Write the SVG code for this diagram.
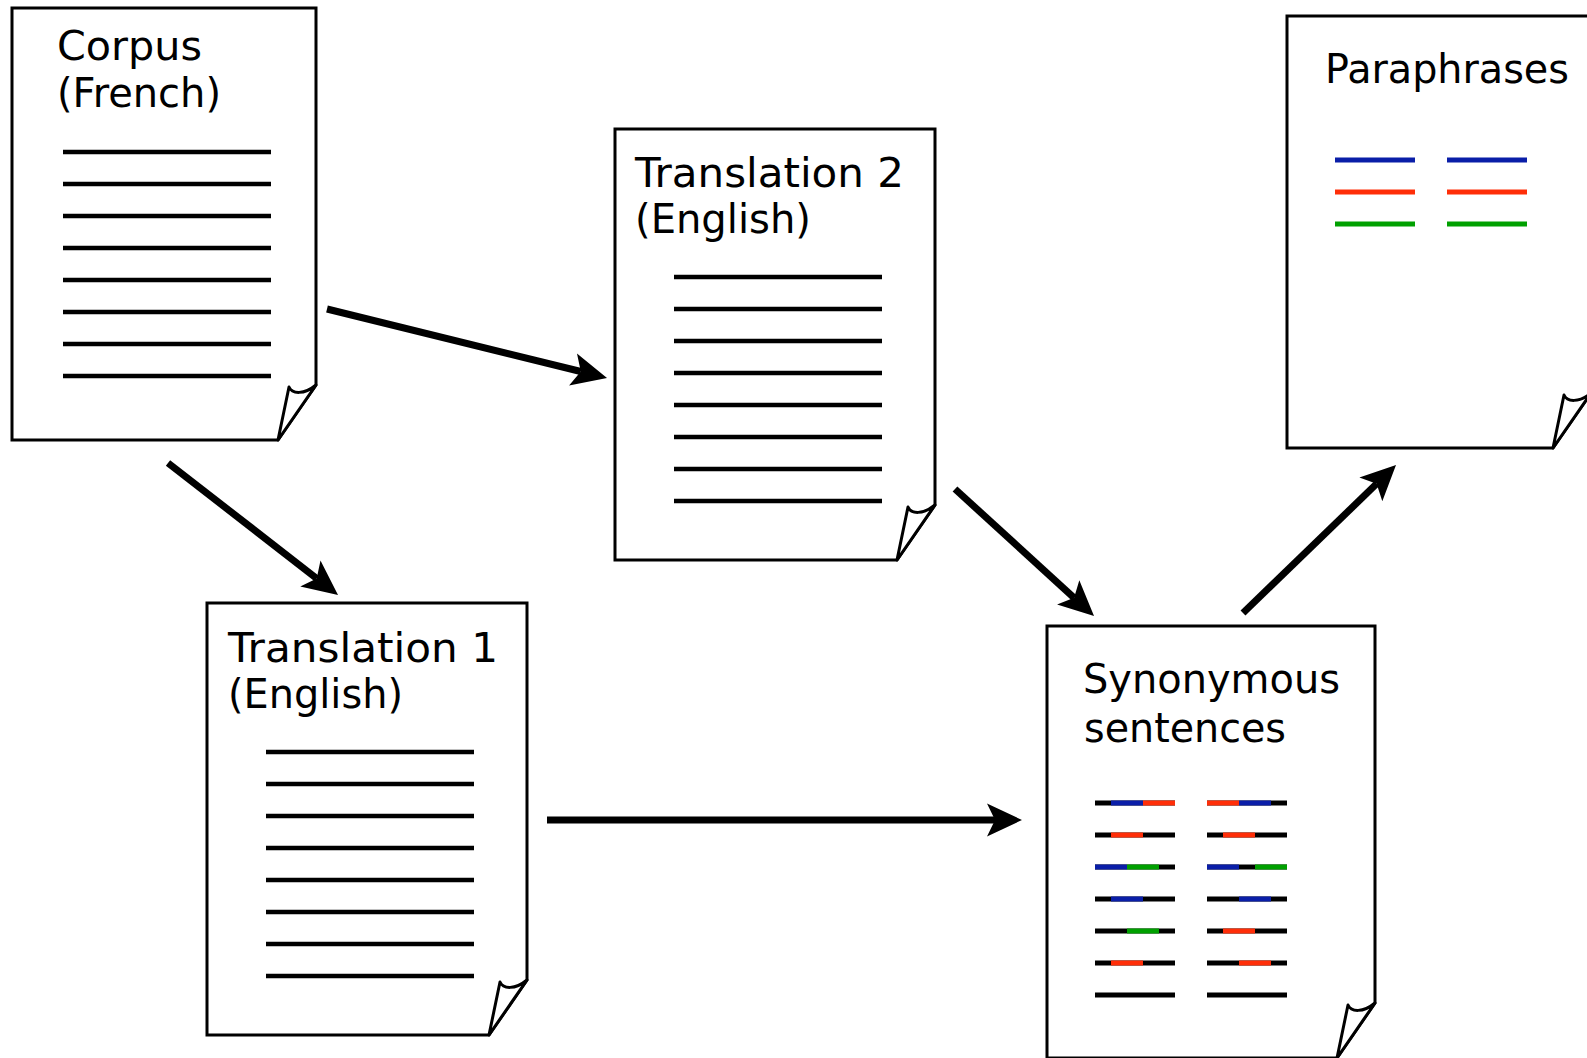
<svg xmlns="http://www.w3.org/2000/svg" xmlns:xlink="http://www.w3.org/1999/xlink" width="1587" height="1058" viewBox="0 0 1587 1058">
  <style>
    .page { fill: #ffffff; stroke: #000000; stroke-width: 3; stroke-linejoin: miter; }
    .fold { fill: #ffffff; stroke: #000000; stroke-width: 3; stroke-linejoin: round; }
    .title { font-family: "DejaVu Sans", "Liberation Sans", sans-serif; font-size: 41px; fill: #000000; }
    .txt { stroke: #000000; stroke-width: 4.5; }
    .k { stroke: #000000; stroke-width: 5; }
    .b { stroke: #0a1ea8; stroke-width: 5; }
    .r { stroke: #ff2e08; stroke-width: 5; }
    .g { stroke: #00a000; stroke-width: 5; }
    .arrow { stroke: #000000; stroke-width: 7; fill: none; marker-end: url(#head); }
  </style>
  <defs>
    <!-- dog-eared corner, origin at the page's bottom-right corner -->
    <path id="fold" d="M0,-55 L-38,0 L-27,-53 C-24,-46 -12,-45 0,-55 Z"/>
    <marker id="head" viewBox="-9 -17 37 34" refX="0" refY="0" markerWidth="37" markerHeight="34" markerUnits="userSpaceOnUse" orient="auto">
      <path d="M27,0 L-8,-16.5 L0,0 L-8,16.5 Z" fill="#000000"/>
    </marker>
  </defs>

  <rect width="1587" height="1058" fill="#ffffff"/>

  <!-- Corpus (French) -->
  <g id="corpus">
    <path class="page" d="M12,8 H316 V385 L278,440 H12 Z"/>
    <use xlink:href="#fold" class="fold" transform="translate(316,440)"/>
    <text class="title" x="57" y="60" textLength="145" lengthAdjust="spacingAndGlyphs">Corpus</text>
    <text class="title" x="57" y="107" textLength="164" lengthAdjust="spacingAndGlyphs">(French)</text>
    <g class="txt">
      <line x1="63" y1="152" x2="271" y2="152"/>
      <line x1="63" y1="184" x2="271" y2="184"/>
      <line x1="63" y1="216" x2="271" y2="216"/>
      <line x1="63" y1="248" x2="271" y2="248"/>
      <line x1="63" y1="280" x2="271" y2="280"/>
      <line x1="63" y1="312" x2="271" y2="312"/>
      <line x1="63" y1="344" x2="271" y2="344"/>
      <line x1="63" y1="376" x2="271" y2="376"/>
    </g>
  </g>

  <!-- Translation 2 (English) -->
  <g id="translation2">
    <path class="page" d="M615,129 H935 V505 L897,560 H615 Z"/>
    <use xlink:href="#fold" class="fold" transform="translate(935,560)"/>
    <text class="title" x="635" y="187" textLength="269" lengthAdjust="spacingAndGlyphs">Translation 2</text>
    <text class="title" x="635" y="233" textLength="176" lengthAdjust="spacingAndGlyphs">(English)</text>
    <g class="txt">
      <line x1="674" y1="277" x2="882" y2="277"/>
      <line x1="674" y1="309" x2="882" y2="309"/>
      <line x1="674" y1="341" x2="882" y2="341"/>
      <line x1="674" y1="373" x2="882" y2="373"/>
      <line x1="674" y1="405" x2="882" y2="405"/>
      <line x1="674" y1="437" x2="882" y2="437"/>
      <line x1="674" y1="469" x2="882" y2="469"/>
      <line x1="674" y1="501" x2="882" y2="501"/>
    </g>
  </g>

  <!-- Translation 1 (English) -->
  <g id="translation1">
    <path class="page" d="M207,603 H527 V980 L489,1035 H207 Z"/>
    <use xlink:href="#fold" class="fold" transform="translate(527,1035)"/>
    <text class="title" x="228" y="662" textLength="270" lengthAdjust="spacingAndGlyphs">Translation 1</text>
    <text class="title" x="228" y="708" textLength="175" lengthAdjust="spacingAndGlyphs">(English)</text>
    <g class="txt">
      <line x1="266" y1="752" x2="474" y2="752"/>
      <line x1="266" y1="784" x2="474" y2="784"/>
      <line x1="266" y1="816" x2="474" y2="816"/>
      <line x1="266" y1="848" x2="474" y2="848"/>
      <line x1="266" y1="880" x2="474" y2="880"/>
      <line x1="266" y1="912" x2="474" y2="912"/>
      <line x1="266" y1="944" x2="474" y2="944"/>
      <line x1="266" y1="976" x2="474" y2="976"/>
    </g>
  </g>

  <!-- Synonymous sentences -->
  <g id="synonymous">
    <path class="page" d="M1047,626 H1375 V1003 L1337,1058 H1047 Z"/>
    <use xlink:href="#fold" class="fold" transform="translate(1375,1058)"/>
    <text class="title" x="1083" y="693" textLength="257" lengthAdjust="spacingAndGlyphs">Synonymous</text>
    <text class="title" x="1084" y="742" textLength="202" lengthAdjust="spacingAndGlyphs">sentences</text>
    <!-- black sentence bars -->
    <g class="k">
      <line x1="1095" y1="803" x2="1175" y2="803"/><line x1="1207" y1="803" x2="1287" y2="803"/>
      <line x1="1095" y1="835" x2="1175" y2="835"/><line x1="1207" y1="835" x2="1287" y2="835"/>
      <line x1="1095" y1="867" x2="1175" y2="867"/><line x1="1207" y1="867" x2="1287" y2="867"/>
      <line x1="1095" y1="899" x2="1175" y2="899"/><line x1="1207" y1="899" x2="1287" y2="899"/>
      <line x1="1095" y1="931" x2="1175" y2="931"/><line x1="1207" y1="931" x2="1287" y2="931"/>
      <line x1="1095" y1="963" x2="1175" y2="963"/><line x1="1207" y1="963" x2="1287" y2="963"/>
      <line x1="1095" y1="995" x2="1175" y2="995"/><line x1="1207" y1="995" x2="1287" y2="995"/>
    </g>
    <!-- highlighted phrase segments -->
    <g class="b">
      <line x1="1111" y1="803" x2="1143" y2="803"/>
      <line x1="1095" y1="867" x2="1127" y2="867"/>
      <line x1="1111" y1="899" x2="1143" y2="899"/>
      <line x1="1239" y1="803" x2="1271" y2="803"/>
      <line x1="1207" y1="867" x2="1239" y2="867"/>
      <line x1="1239" y1="899" x2="1271" y2="899"/>
    </g>
    <g class="r">
      <line x1="1143" y1="803" x2="1175" y2="803"/>
      <line x1="1111" y1="835" x2="1143" y2="835"/>
      <line x1="1111" y1="963" x2="1143" y2="963"/>
      <line x1="1207" y1="803" x2="1239" y2="803"/>
      <line x1="1223" y1="835" x2="1255" y2="835"/>
      <line x1="1223" y1="931" x2="1255" y2="931"/>
      <line x1="1239" y1="963" x2="1271" y2="963"/>
    </g>
    <g class="g">
      <line x1="1127" y1="867" x2="1159" y2="867"/>
      <line x1="1127" y1="931" x2="1159" y2="931"/>
      <line x1="1255" y1="867" x2="1287" y2="867"/>
    </g>
  </g>

  <!-- Paraphrases -->
  <g id="paraphrases">
    <path class="page" d="M1287,16 H1591 V393 L1553,448 H1287 Z"/>
    <use xlink:href="#fold" class="fold" transform="translate(1591,448)"/>
    <text class="title" x="1325" y="83" textLength="244" lengthAdjust="spacingAndGlyphs">Paraphrases</text>
    <line class="b" x1="1335" y1="160" x2="1415" y2="160"/>
    <line class="b" x1="1447" y1="160" x2="1527" y2="160"/>
    <line class="r" x1="1335" y1="192" x2="1415" y2="192"/>
    <line class="r" x1="1447" y1="192" x2="1527" y2="192"/>
    <line class="g" x1="1335" y1="224" x2="1415" y2="224"/>
    <line class="g" x1="1447" y1="224" x2="1527" y2="224"/>
  </g>

  <!-- connectors -->
  <g id="connectors">
    <line class="arrow" x1="327" y1="309" x2="580.8" y2="371.5"/>
    <line class="arrow" x1="168" y1="463" x2="316.7" y2="578.4"/>
    <line class="arrow" x1="547" y1="820" x2="995" y2="820"/>
    <line class="arrow" x1="955" y1="489" x2="1074.1" y2="597.8"/>
    <line class="arrow" x1="1243" y1="613" x2="1376.6" y2="483.8"/>
  </g>
</svg>
